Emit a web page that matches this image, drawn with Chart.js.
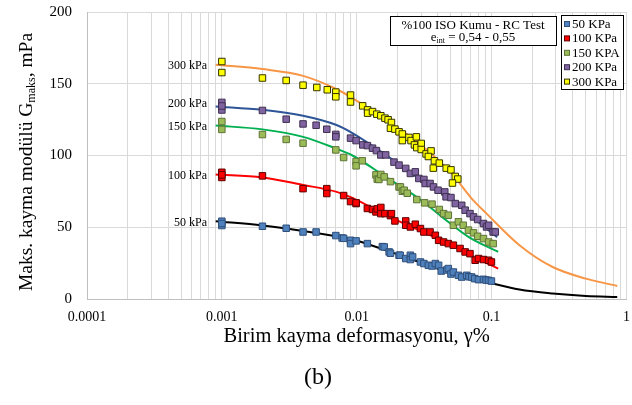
<!DOCTYPE html>
<html>
<head>
<meta charset="utf-8">
<script src="https://cdn.jsdelivr.net/npm/chart.js@4"></script>
<style>
  body { margin: 0; background: #fff; }
  canvas { display: block; }
</style>
</head>
<body>
<canvas id="grafico" width="632" height="405"></canvas>
<script>
// ticks
var xDecades = [0.0001, 0.001, 0.01, 0.1];
var xTickLabels = ['0.0001', '0.001', '0.01', '0.1', '1'];
var yTicks = [0, 50, 100, 150, 200];

// puntos medidos (gamma %, Gmax MPa)
var gam50 = [0.001, 0.001, 0.001, 0.002, 0.003, 0.004, 0.005, 0.007, 0.0078, 0.008, 0.009, 0.009, 0.0099, 0.012, 0.0155, 0.016, 0.0174, 0.0178, 0.0206, 0.021, 0.0231, 0.025, 0.025, 0.026, 0.0297, 0.0315, 0.034, 0.0362, 0.0383, 0.0405, 0.0424, 0.0465, 0.0478, 0.05, 0.0521, 0.0568, 0.0601, 0.0654, 0.068, 0.0713, 0.075, 0.08, 0.0871, 0.091, 0.0951, 0.0998];
var g50 = [54.2, 51.2, 52.6, 50.7, 49.3, 46.7, 46.7, 44.2, 42.5, 42.3, 40.9, 38.6, 40.5, 38.6, 36.5, 36.3, 32.8, 31.9, 30.5, 30.5, 28.2, 30.5, 27.5, 29.3, 25.8, 24.7, 23.5, 23.0, 24.7, 23.5, 19.5, 20.2, 21.2, 17.4, 18.8, 16.5, 15.3, 16.5, 15.5, 15.3, 14.2, 13.5, 13.7, 13.2, 13.0, 12.5];

var gam100 = [0.001, 0.001, 0.001, 0.002, 0.004, 0.006, 0.006, 0.008, 0.009, 0.0099, 0.0099, 0.012, 0.0131, 0.0139, 0.0142, 0.0151, 0.0151, 0.0162, 0.0178, 0.0181, 0.0192, 0.0231, 0.0231, 0.025, 0.0272, 0.0297, 0.0315, 0.035, 0.0383, 0.0405, 0.0441, 0.0478, 0.0521, 0.0584, 0.0637, 0.0692, 0.0756, 0.08, 0.0871, 0.0951, 0.0998];
var g100 = [88.3, 84.7, 86.5, 85.8, 76.9, 76.9, 73.5, 72.1, 67.9, 66.5, 67.0, 63.1, 62.4, 60.7, 62.8, 63.8, 59.5, 59.5, 58.1, 59.5, 54.4, 54.4, 51.4, 50.2, 52.1, 49.1, 46.7, 46.7, 44.4, 40.9, 39.7, 38.6, 37.5, 35.2, 32.8, 31.6, 27.0, 28.2, 27.5, 27.0, 25.8];

var gam150 = [0.001, 0.001, 0.002, 0.003, 0.004, 0.007, 0.008, 0.0099, 0.0099, 0.011, 0.0139, 0.0142, 0.0146, 0.0151, 0.016, 0.0178, 0.0206, 0.0211, 0.0218, 0.0225, 0.0237, 0.0279, 0.0319, 0.0362, 0.041, 0.0441, 0.0478, 0.0521, 0.0568, 0.0617, 0.0674, 0.0735, 0.0789, 0.0871, 0.0951, 0.1028];
var g150 = [123.7, 118.2, 114.6, 111.2, 108.6, 103.9, 98.6, 95.8, 92.8, 96.3, 86.5, 83.5, 83.3, 86.8, 85.1, 81.8, 78.1, 78.1, 75.1, 75.8, 73.7, 69.3, 67.0, 66.1, 62.4, 59.5, 58.4, 51.4, 53.8, 51.4, 48.0, 46.1, 43.7, 42.1, 39.7, 38.6];

var gam200 = [0.001, 0.001, 0.001, 0.002, 0.003, 0.004, 0.005, 0.006, 0.007, 0.007, 0.009, 0.0099, 0.0111, 0.012, 0.0131, 0.014, 0.0151, 0.0164, 0.0189, 0.0206, 0.0231, 0.025, 0.0272, 0.0289, 0.0315, 0.0322, 0.035, 0.0371, 0.0401, 0.045, 0.046, 0.05, 0.0538, 0.0601, 0.0637, 0.0692, 0.0735, 0.0789, 0.0871, 0.0918, 0.0951, 0.1028, 0.1065];
var g200 = [137.0, 131.7, 134.5, 131.4, 125.3, 122.0, 121.1, 118.3, 114.7, 113.0, 112.1, 110.4, 107.4, 106.9, 105.1, 103.4, 100.4, 100.4, 95.4, 93.3, 91.0, 87.5, 88.6, 84.0, 83.3, 80.5, 80.5, 78.1, 75.8, 74.6, 71.2, 70.7, 66.5, 65.3, 61.9, 59.5, 57.2, 55.4, 52.6, 50.2, 51.4, 46.7, 46.7];

var gam300 = [0.001, 0.001, 0.002, 0.003, 0.004, 0.00506, 0.00605, 0.007, 0.007, 0.009, 0.009, 0.01107, 0.01205, 0.01205, 0.0131, 0.0141, 0.0151, 0.0162, 0.0171, 0.0181, 0.0178, 0.0192, 0.0206, 0.0218, 0.0218, 0.0244, 0.0253, 0.0277, 0.0268, 0.0279, 0.0301, 0.0301, 0.0327, 0.0356, 0.034, 0.0377, 0.037, 0.041, 0.0461, 0.05, 0.0538, 0.0562, 0.0513];
var g300 = [165.5, 157.8, 154.0, 152.3, 149.0, 147.4, 145.8, 144.2, 140.9, 142.1, 137.3, 134.6, 131.8, 129.5, 130.6, 128.8, 127.7, 126.0, 124.9, 123.0, 119.0, 118.4, 116.5, 115.0, 110.4, 112.6, 110.4, 113.0, 107.4, 105.5, 108.4, 104.2, 101.1, 103.2, 99.3, 96.3, 91.2, 94.7, 91.2, 90.0, 85.4, 83.6, 80.8];

// curvas
var cx50 = [0.0009, 0.002, 0.004, 0.007, 0.0093, 0.0164, 0.0289, 0.0505, 0.0918, 0.161, 0.284, 0.5, 0.855];
var c50 = [54.2, 51.2, 47.4, 43.7, 41.5, 34.0, 25.8, 17.9, 11.9, 6.6, 3.8, 2.1, 1.4];
var cx100 = [0.0009, 0.002, 0.004, 0.007, 0.0093, 0.0164, 0.0289, 0.0505, 0.0713, 0.112];
var c100 = [86.8, 84.7, 79.5, 74.8, 70.5, 58.4, 48.0, 37.5, 30.0, 21.2];
var cx150 = [0.0009, 0.002, 0.004, 0.007, 0.0093, 0.0164, 0.0289, 0.0429, 0.0674, 0.112];
var c150 = [120.9, 118.2, 113.0, 104.9, 100.0, 85.1, 70.0, 57.2, 43.3, 32.8];
var cx200 = [0.0009, 0.002, 0.004, 0.007, 0.0093, 0.0164, 0.0289, 0.0505, 0.0674, 0.11];
var c200 = [134.2, 131.8, 127.7, 121.4, 115.6, 100.4, 84.0, 70.0, 59.5, 43.0];
var cx300 = [0.0009, 0.002, 0.004, 0.007, 0.0093, 0.0164, 0.0289, 0.0505, 0.0713, 0.0918, 0.161, 0.284, 0.5, 0.855];
var c300 = [163.2, 160.2, 155.5, 146.5, 140.0, 124.9, 108.6, 87.5, 70.0, 59.5, 37.5, 22.3, 14.2, 9.1];

var serie = ['50 KPa', '100 KPa', '150 KPA', '200 KPa', '300 KPa'];
var etiquetas = ['50 kPa', '100 kPa', '150 kPa', '200 kPa', '300 kPa'];

function pares(xs, ys) {
    var out = [];
    for (var i = 0; i < xs.length; i++) out.push({ x: xs[i], y: ys[i] });
    return out;
}

function puntos(label, xs, ys, fill, border) {
    return {
        label: label,
        data: pares(xs, ys),
        pointStyle: 'rect',
        pointRadius: 4.6,
        pointBackgroundColor: fill,
        pointBorderColor: border,
        pointBorderWidth: 1,
        backgroundColor: fill,
        borderColor: border,
        showLine: false
    };
}

function curva(xs, ys, color) {
    return {
        label: 'curva',
        data: pares(xs, ys),
        showLine: true,
        borderColor: color,
        borderWidth: 2,
        pointRadius: 0,
        cubicInterpolationMode: 'monotone',
        fill: false
    };
}

var fuente = 'Liberation Serif';

// leyenda y textos dibujados a mano
var textos = {
    id: 'textos',
    afterDraw: function(chart) {
        var ctx = chart.ctx;
        ctx.save();

        // titulo eje y con subindice
        ctx.translate(27, 162);
        ctx.rotate(-Math.PI / 2);
        ctx.fillStyle = '#000';
        ctx.textBaseline = 'middle';
        var p1 = 'Maks. kayma modülü G', p2 = 'maks', p3 = ', mPa';
        ctx.font = '19.5px "' + fuente + '"';
        var w1 = ctx.measureText(p1).width, w3 = ctx.measureText(p3).width;
        ctx.font = '12px "' + fuente + '"';
        var w2 = ctx.measureText(p2).width;
        var x0 = -(w1 + w2 + w3) / 2;
        ctx.font = '19.5px "' + fuente + '"';
        ctx.fillText(p1, x0, 0);
        ctx.font = '12px "' + fuente + '"';
        ctx.fillText(p2, x0 + w1, 5);
        ctx.font = '19.5px "' + fuente + '"';
        ctx.fillText(p3, x0 + w1 + w2, 0);
        ctx.restore();

        ctx.save();
        // etiquetas de curvas
        ctx.font = '12px "' + fuente + '"';
        ctx.textAlign = 'right';
        ctx.textBaseline = 'middle';
        ctx.fillStyle = '#000';
        var ly = [223, 176, 127, 104, 66];
        for (var i = 0; i < etiquetas.length; i++) {
            ctx.fillText(etiquetas[i], 207, ly[i]);
        }

        // cuadro de texto
        ctx.fillStyle = '#fff';
        ctx.fillRect(390, 16, 166, 29);
        ctx.strokeStyle = '#000';
        ctx.lineWidth = 1;
        ctx.strokeRect(390.5, 16.5, 166, 29);
        ctx.fillStyle = '#000';
        ctx.textAlign = 'center';
        ctx.font = '13px "' + fuente + '"';
        ctx.fillText('%100 ISO Kumu - RC Test', 473, 26);
        ctx.textAlign = 'left';
        var a = 'e', b = 'int', c = ' = 0,54 - 0,55';
        var wa = ctx.measureText(a).width, wc = ctx.measureText(c).width;
        ctx.font = '8px "' + fuente + '"';
        var wb = ctx.measureText(b).width;
        var sx = 473 - (wa + wb + wc) / 2;
        ctx.font = '13px "' + fuente + '"';
        ctx.fillText(a, sx, 38);
        ctx.font = '8px "' + fuente + '"';
        ctx.fillText(b, sx + wa, 41);
        ctx.font = '13px "' + fuente + '"';
        ctx.fillText(c, sx + wa + wb, 38);

        // leyenda
        ctx.fillStyle = '#fff';
        ctx.fillRect(561, 15, 62, 74);
        ctx.strokeStyle = '#000';
        ctx.strokeRect(561.5, 15.5, 62, 74);
        for (var k = 0; k < serie.length; k++) {
            var ds = chart.data.datasets[k];
            var yy = 24 + k * 14.4;
            ctx.fillStyle = ds.pointBackgroundColor;
            ctx.fillRect(564, yy - 2.5, 5, 5);
            ctx.strokeStyle = ds.pointBorderColor;
            ctx.strokeRect(564.5, yy - 2.5, 5, 5);
            ctx.fillStyle = '#000';
            ctx.font = '13px "' + fuente + '"';
            ctx.textAlign = 'left';
            ctx.fillText(serie[k], 572, yy + 0.5);
        }

        // (b)
        ctx.textAlign = 'center';
        ctx.font = '24px "' + fuente + '"';
        ctx.fillText('(b)', 318, 378);
        ctx.restore();
    }
};

var ctx = document.getElementById('grafico').getContext('2d');

var grafico = new Chart(ctx, {
    type: 'scatter',
    data: {
        datasets: [
            puntos(serie[0], gam50, g50, '#4F81BD', '#2F4F7A'),
            puntos(serie[1], gam100, g100, '#FF0000', '#5A0000'),
            puntos(serie[2], gam150, g150, '#9BBB59', '#5E7336'),
            puntos(serie[3], gam200, g200, '#8064A2', '#3F3050'),
            puntos(serie[4], gam300, g300, '#FFFF00', '#333300'),
            curva(cx50, c50, '#000000'),
            curva(cx100, c100, '#FF0000'),
            curva(cx150, c150, '#00B050'),
            curva(cx200, c200, '#2E5597'),
            curva(cx300, c300, '#F79646')
        ]
    },
    options: {
        responsive: false,
        animation: false,
        devicePixelRatio: 1,
        layout: { padding: { left: 0, right: 4, top: 12, bottom: 46 } },
        plugins: {
            legend: { display: false },
            tooltip: { enabled: false }
        },
        scales: {
            x: {
                type: 'logarithmic',
                min: 0.0001,
                max: 1,
                afterBuildTicks: function(scale) {
                    var t = [];
                    xDecades.forEach(function(d) {
                        for (var m = 1; m <= 9; m++) t.push({ value: m * d });
                    });
                    t.push({ value: 1 });
                    scale.ticks = t;
                },
                afterFit: function(scale) {
                    scale.height = 60;
                    scale.paddingLeft = 0;
                    scale.paddingRight = 0;
                },
                grid: { color: '#D9D9D9', drawTicks: false },
                border: { color: '#BFBFBF' },
                ticks: {
                    autoSkip: false,
                    maxRotation: 0,
                    padding: 10,
                    color: '#000',
                    font: { family: fuente, size: 14 },
                    callback: function(value) {
                        var e = Math.log10(value);
                        if (Math.abs(e - Math.round(e)) < 1e-6) {
                            return xTickLabels[Math.round(e) + 4];
                        }
                        return '';
                    }
                },
                title: {
                    display: true,
                    text: 'Birim kayma deformasyonu, γ%',
                    color: '#000',
                    font: { family: fuente, size: 20.5 },
                    padding: { top: 0, bottom: 10 }
                }
            },
            y: {
                min: yTicks[0],
                max: yTicks[yTicks.length - 1],
                afterBuildTicks: function(scale) {
                    scale.ticks = yTicks.map(function(v) { return { value: v }; });
                },
                afterFit: function(scale) {
                    scale.width = 87;
                    scale.paddingTop = 0;
                    scale.paddingBottom = 0;
                },
                grid: { color: '#D9D9D9', drawTicks: false },
                border: { color: '#BFBFBF' },
                ticks: {
                    padding: 15,
                    color: '#000',
                    font: { family: fuente, size: 15 }
                }
            }
        }
    },
    plugins: [textos]
});
</script>
</body>
</html>
